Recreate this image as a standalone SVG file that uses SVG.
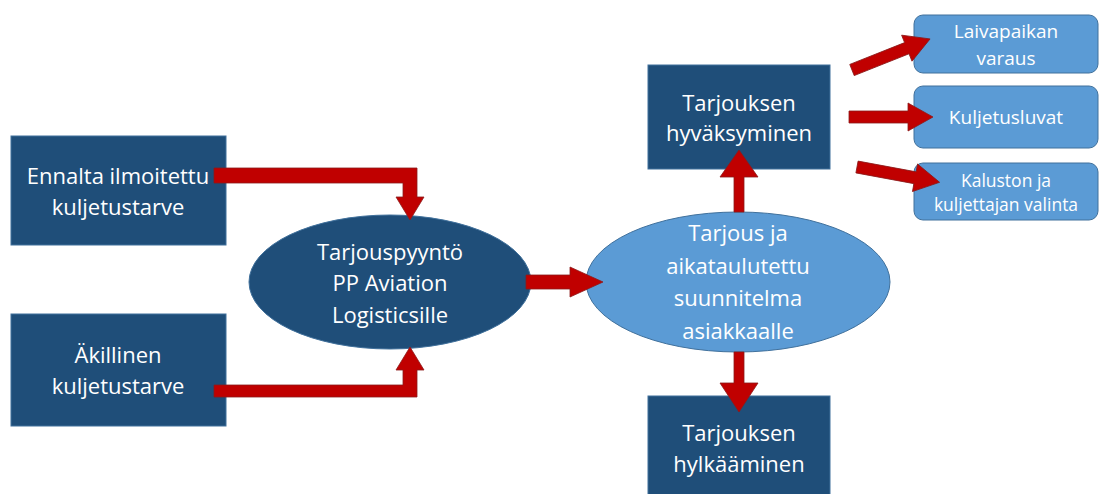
<svg xmlns="http://www.w3.org/2000/svg" width="1101" height="494" viewBox="0 0 1101 494">
<style>
.dark{fill:#1F4E79;stroke:#41719C;stroke-width:1}
.light{fill:#5B9BD5;stroke:#41719C;stroke-width:1}
.arr{fill:#C00000;stroke:#8B1A1A;stroke-width:0.8;stroke-linejoin:miter}
text{font-family:"Open Sans","Liberation Sans",sans-serif;fill:#FFFFFF;text-anchor:middle}
.t20{font-size:22px}
.t16{font-size:19px}
.t14{font-size:17.5px}
</style>
<defs>
<path id="rarrow" d="M0,-6 H59 V-14 L84,0 L59,14 V6 H0 Z"/>
</defs>
<rect width="1101" height="494" fill="#FFFFFF"/>
<g id="node-ennalta">
<rect class="dark" x="11" y="136" width="215" height="109"/>
<text class="t20" x="118" y="184">Ennalta ilmoitettu</text>
<text class="t20" x="118" y="215">kuljetustarve</text>
</g>
<g id="node-akillinen">
<rect class="dark" x="11" y="314" width="215" height="112"/>
<text class="t20" x="118" y="363">Äkillinen</text>
<text class="t20" x="118" y="394">kuljetustarve</text>
</g>
<g id="node-tarjouspyynto">
<ellipse class="dark" cx="390" cy="282" rx="141" ry="67"/>
<text class="t20" x="390" y="260">Tarjouspyyntö</text>
<text class="t20" x="390" y="291">PP Aviation</text>
<text class="t20" x="390" y="323">Logisticsille</text>
</g>
<g id="node-tarjous">
<ellipse class="light" cx="738" cy="282" rx="152" ry="70"/>
<text class="t20" x="738" y="241">Tarjous ja</text>
<text class="t20" x="738" y="274">aikataulutettu</text>
<text class="t20" x="738" y="306">suunnitelma</text>
<text class="t20" x="738" y="339">asiakkaalle</text>
</g>
<g id="node-hyvaksyminen">
<rect class="dark" x="648" y="65" width="182" height="104"/>
<text class="t20" x="739" y="111">Tarjouksen</text>
<text class="t20" x="739" y="141">hyväksyminen</text>
</g>
<g id="node-hylkaaminen">
<rect class="dark" x="648" y="396" width="182" height="104"/>
<text class="t20" x="739" y="441">Tarjouksen</text>
<text class="t20" x="739" y="472">hylkääminen</text>
</g>
<g id="node-laivapaikan">
<rect class="light" x="914" y="15" width="184" height="58" rx="9"/>
<text class="t16" x="1006" y="38">Laivapaikan</text>
<text class="t16" x="1006" y="65">varaus</text>
</g>
<g id="node-kuljetusluvat">
<rect class="light" x="914" y="86" width="184" height="62" rx="9"/>
<text class="t16" x="1006" y="124">Kuljetusluvat</text>
</g>
<g id="node-kaluston">
<rect class="light" x="914" y="163" width="184" height="57" rx="9"/>
<text class="t14" x="1006" y="187">Kaluston ja</text>
<text class="t14" x="1006" y="211">kuljettajan valinta</text>
</g>
<g id="connectors">
<path class="arr" d="M214,168 H417 V197 H424 L410,220 L396,197 H403 V183 H214 Z"/>
<path class="arr" d="M214,385 H403 V370 H396 L410,347 L424,370 H417 V397 H214 Z"/>
<path class="arr" d="M526,275 H570 V267 L603,282 L570,297 V289 H526 Z"/>
<path class="arr" d="M734,212 V177 H720 L739,150 L758,177 H744 V212 Z"/>
<path class="arr" d="M734,352 V383 H720 L739,412 L758,383 H744 V352 Z"/>
<use class="arr" href="#rarrow" transform="translate(852,70) rotate(-21.7)"/>
<use class="arr" href="#rarrow" transform="translate(849,117)"/>
<use class="arr" href="#rarrow" transform="translate(857,167) rotate(10.5)"/>
</g>
</svg>
